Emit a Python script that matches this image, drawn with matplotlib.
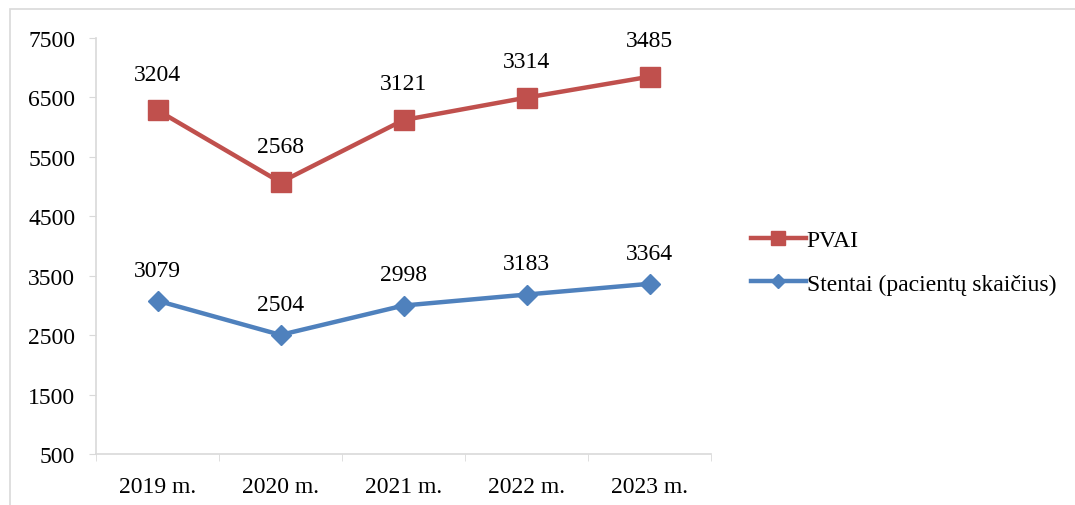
import numpy as np
import matplotlib
matplotlib.use('Agg')
import matplotlib.pyplot as plt
from matplotlib.patches import Rectangle

years = ['2019 m.', '2020 m.', '2021 m.', '2022 m.', '2023 m.']
stentai = [3079, 2504, 2998, 3183, 3364]
pvai = [3204, 2568, 3121, 3314, 3485]
yticks = [500, 1500, 2500, 3500, 4500, 5500, 6500, 7500]

plt.rcParams['font.family'] = ['Liberation Serif', 'DejaVu Serif']
fs = 17

fig = plt.figure(figsize=(10.75, 5.06), dpi=100)
ax = fig.add_axes([96/1075, 1-455/506, (711-96)/1075, (455-39)/506])

# outer chart frame
fig.patches.append(Rectangle((10/1075, -0.05), 1.2, 1.05-10/506, transform=fig.transFigure,
                             fill=False, edgecolor='#d9d9d9', lw=1.2))

x = np.arange(len(years))
# stacked line chart: PVAI drawn on top of Stentai
top = np.array(stentai) + np.array(pvai)

red = '#C0504D'
blue = '#4F81BD'
l1, = ax.plot(x, top, color=red, lw=3.2, marker='s', ms=14, label='PVAI', zorder=3)
l2, = ax.plot(x, stentai, color=blue, lw=3.2, marker='D', ms=10, label='Stentai (pacientų skaičius)', zorder=3)

for xi, yv, v in zip(x, top, pvai):
    ax.annotate(str(v), (xi, yv), xytext=(0, 26), textcoords='offset points',
                ha='center', va='center', fontsize=fs)
for xi, yv, v in zip(x, stentai, stentai):
    ax.annotate(str(v), (xi, yv), xytext=(0, 22), textcoords='offset points',
                ha='center', va='center', fontsize=fs)

ax.set_xlim(-0.5, len(years) - 0.5)
ax.set_ylim(500, 7500)
ax.set_yticks(yticks)
ax.tick_params(axis='y', labelsize=fs, length=5, color='#d9d9d9', pad=10)
ax.set_xticks(x)
ax.set_xticklabels(years)
ax.tick_params(axis='x', labelsize=fs, length=0, pad=16)
ax.set_xticks(np.arange(len(years) + 1) - 0.5, minor=True)
ax.tick_params(axis='x', which='minor', length=5, color='#d9d9d9')

for s in ['top', 'right']:
    ax.spines[s].set_visible(False)
for s in ['left', 'bottom']:
    ax.spines[s].set_color('#d9d9d9')
    ax.spines[s].set_linewidth(1.2)

fig.legend(handles=[l1, l2], loc='center left', bbox_to_anchor=(730/1075, 1-263/506),
           frameon=False, fontsize=fs, handlelength=2.3, handletextpad=0.05,
           labelspacing=0.95, markerscale=0.75)

fig.savefig('out.png', dpi=100)
